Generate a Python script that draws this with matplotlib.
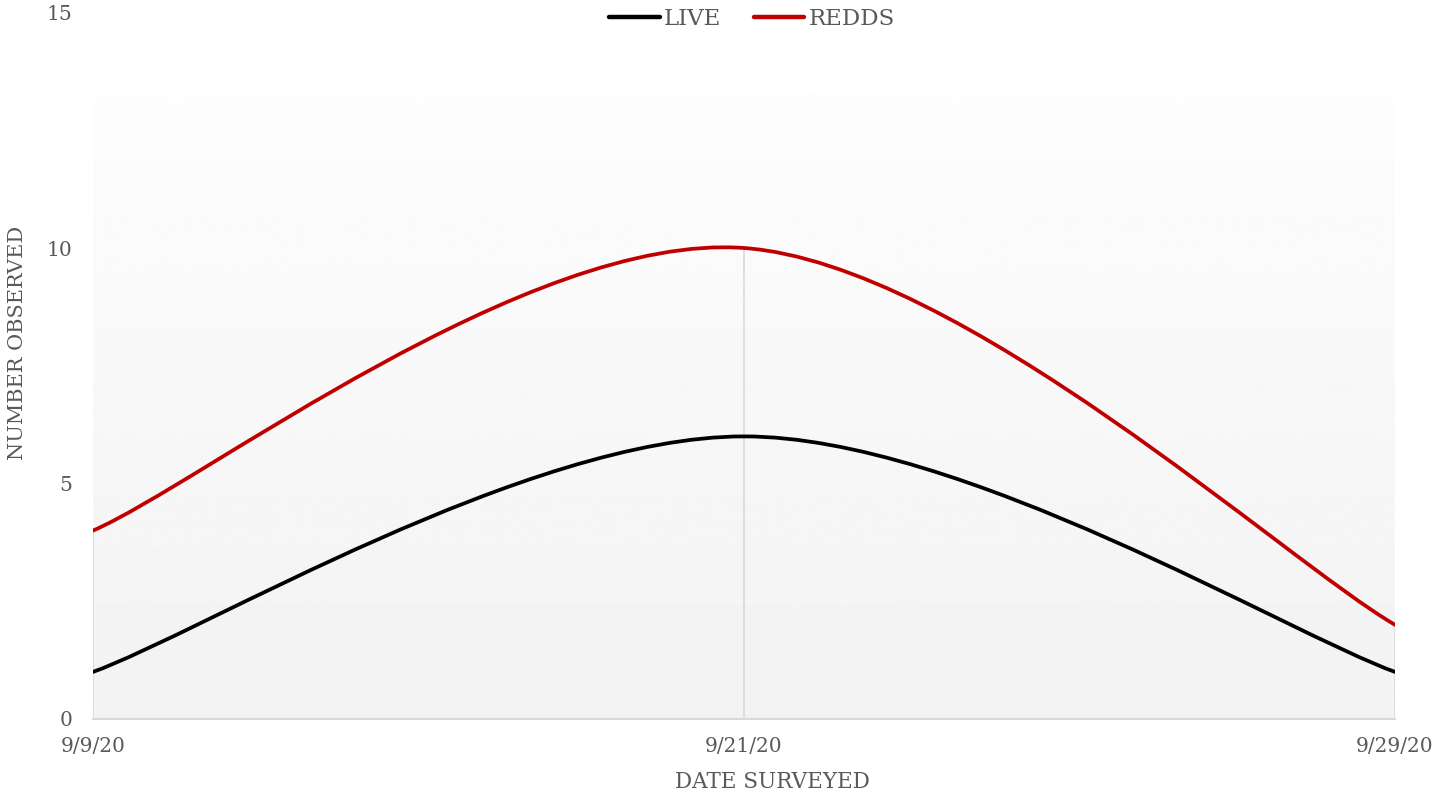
import numpy as np
import matplotlib.pyplot as plt
from matplotlib.path import Path
from matplotlib.patches import PathPatch
from matplotlib.lines import Line2D

dates = ['9/9/20', '9/21/20', '9/29/20']
live = [1, 6, 1]
redds = [4, 10, 2]

plt.rcParams['font.family'] = ['DejaVu Serif']
txt = '#595959'
grid_c = '#D9D9D9'


def smooth_path(xs, ys):
    # excel-style smoothed line: cubic bezier with 1/6 tangents
    pts = np.column_stack([xs, ys]).astype(float)
    n = len(pts)
    verts = [pts[0]]
    codes = [Path.MOVETO]
    for i in range(n - 1):
        p0 = pts[i - 1] if i > 0 else pts[i]
        p1 = pts[i]
        p2 = pts[i + 1]
        p3 = pts[i + 2] if i + 2 < n else pts[i + 1]
        c1 = p1 + (p2 - p0) / 6
        c2 = p2 - (p3 - p1) / 6
        verts += [c1, c2, p2]
        codes += [Path.CURVE4] * 3
    return Path(verts, codes)


fig = plt.figure(figsize=(14.51, 7.97), dpi=100)
ax = fig.add_axes([93 / 1451, 78 / 797, 1302 / 1451, 706.5 / 797])
x = np.arange(len(dates))

ax.set_xlim(0, len(dates) - 1)
ax.set_ylim(0, 15)

# gradient background of the plot area
grad = np.linspace(0.949, 0.993, 256).reshape(-1, 1)
ax.imshow(grad, extent=[0, len(dates) - 1, 0, 13.29], origin='lower',
          cmap='gray', vmin=0, vmax=1, aspect='auto', zorder=0)

# drop lines
for xi, a, b in zip(x, live, redds):
    ax.plot([xi, xi], [0, max(a, b)], color=grid_c, lw=1.2, zorder=1)

ax.add_patch(PathPatch(smooth_path(x, live), fill=False, edgecolor='black',
                       lw=2.7, capstyle='round', zorder=3))
ax.add_patch(PathPatch(smooth_path(x, redds), fill=False, edgecolor='#C00000',
                       lw=2.7, capstyle='round', zorder=3))

for s in ['top', 'right', 'left']:
    ax.spines[s].set_visible(False)
ax.spines['bottom'].set_color(grid_c)
ax.spines['bottom'].set_linewidth(1.5)

ax.set_xticks(x)
ax.set_xticklabels(dates)
ax.set_yticks([0, 5, 10, 15])
ax.tick_params(length=0, labelsize=14.5, colors=txt, pad=13)
ax.tick_params(axis='y', pad=15)

fig.text(772 / 1451, 1 - 782 / 797, 'DATE SURVEYED', ha='center', va='center',
         fontsize=15.5, color=txt)
fig.text(18 / 1451, 1 - 343 / 797, 'NUMBER OBSERVED', ha='center', va='center',
         rotation=90, fontsize=15, color=txt)

handles = [Line2D([], [], color='black', lw=3.2, solid_capstyle='round'),
           Line2D([], [], color='#C00000', lw=3.2, solid_capstyle='round')]
fig.legend(handles, ['LIVE', 'REDDS'], loc='center', bbox_to_anchor=(752 / 1451, 1 - 19 / 797),
           ncol=2, frameon=False, fontsize=16.5, labelcolor=txt, handlelength=2.2,
           handletextpad=0.2, columnspacing=1.4)

fig.savefig('out.png', dpi=100)
